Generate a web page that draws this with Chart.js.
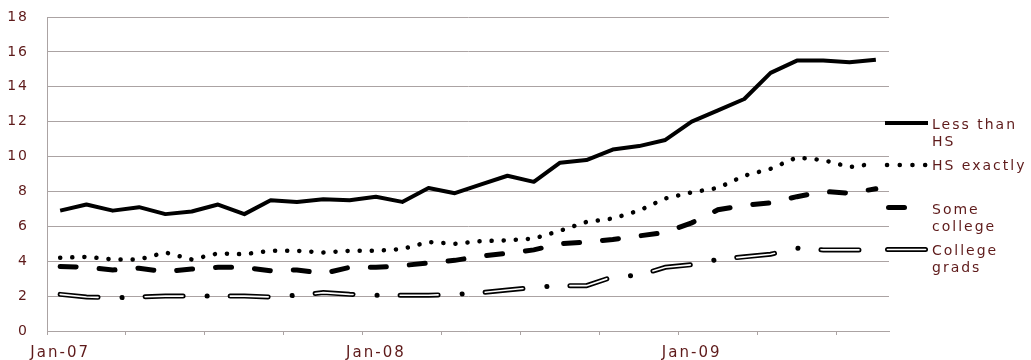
<!DOCTYPE html>
<html>
<head>
<meta charset="utf-8">
<script src="https://cdn.jsdelivr.net/npm/chart.js@4/dist/chart.umd.min.js"></script>
<style>
html,body{margin:0;padding:0;background:#fff;}
#wrap{width:1031px;height:360px;position:relative;}
</style>
</head>
<body>
<div id="wrap"><canvas id="c" width="1031" height="360"></canvas></div>
<script>
// ---- data ----
const months = [
  'Jan-07','Feb-07','Mar-07','Apr-07','May-07','Jun-07','Jul-07','Aug-07','Sep-07','Oct-07','Nov-07','Dec-07',
  'Jan-08','Feb-08','Mar-08','Apr-08','May-08','Jun-08','Jul-08','Aug-08','Sep-08','Oct-08','Nov-08','Dec-08',
  'Jan-09','Feb-09','Mar-09','Apr-09','May-09','Jun-09','Jul-09','Aug-09'
];
const tickLabels = ['Jan-07','Jan-08','Jan-09'];
const yTicks = [0,2,4,6,8,10,12,14,16,18];

const lessThanHS = [6.9,7.25,6.9,7.1,6.7,6.85,7.25,6.7,7.5,7.4,7.55,7.5,7.7,7.4,8.2,7.9,
                    8.4,8.9,8.55,9.65,9.8,10.4,10.6,10.95,12.0,12.65,13.3,14.8,15.5,15.5,15.4,15.55];
const hsExactly  = [4.2,4.25,4.1,4.1,4.5,4.1,4.45,4.4,4.6,4.6,4.5,4.6,4.6,4.7,5.1,5.0,
                    5.15,5.2,5.3,5.75,6.25,6.45,6.9,7.6,7.95,8.2,8.9,9.3,9.95,9.8,9.4,9.6];
const someCollege = [3.7,3.65,3.5,3.6,3.4,3.55,3.65,3.65,3.45,3.5,3.3,3.65,3.65,3.75,3.9,4.05,
                     4.3,4.45,4.65,5.0,5.1,5.25,5.45,5.65,6.2,6.95,7.2,7.35,7.7,8.0,7.9,8.15];
const collegeGrads = [2.1,1.95,1.9,1.95,2.0,2.0,2.0,2.0,1.95,2.05,2.2,2.1,2.05,2.05,2.05,2.1,
                      2.2,2.35,2.5,2.6,2.6,3.1,3.2,3.65,3.8,4.1,4.25,4.4,4.75,4.65,4.65,4.65];
const seriesNames = [['Less than','HS'],['HS exactly'],['Some','college'],['College','grads']];

// ---- styles ----
const GRID = '#aba3a3';
const TEXT = '#5e1a1a';
const FONT = "'DejaVu Sans', sans-serif";
const SPACING = '2px';

const spacingPlugin = {
  id: 'spacing',
  beforeUpdate(chart){ chart.ctx.letterSpacing = SPACING; },
  beforeDraw(chart){ chart.ctx.letterSpacing = SPACING; }
};

const legendPlugin = {
  id: 'sideLegend',
  afterDraw(chart){
    const ctx = chart.ctx;
    const entries = [
      {ty:125, draw(){ line(885, 928, 123, 4, [], 'butt', '#000'); }},
      {ty:166, draw(){ line(887, 928, 165, 4.5, [0.1, 12.6], 'round', '#000'); }},
      {ty:210, draw(){ line(888.5, 904.5, 207.5, 5, [], 'round', '#000'); }},
      {ty:251, draw(){ line(887.5, 925.5, 249.5, 5, [], 'round', '#000');
                       line(887.5, 925.5, 249.5, 1.6, [], 'round', '#fff'); }}
    ];
    function line(a, b, y, w, dash, cap, col){
      ctx.save();
      ctx.beginPath();
      ctx.setLineDash(dash);
      ctx.lineCap = cap;
      ctx.lineWidth = w;
      ctx.strokeStyle = col;
      ctx.moveTo(a, y); ctx.lineTo(b, y);
      ctx.stroke();
      ctx.restore();
    }
    entries.forEach((e, i) => {
      e.draw();
      ctx.save();
      ctx.letterSpacing = SPACING;
      ctx.font = '14px ' + FONT;
      ctx.fillStyle = TEXT;
      ctx.textAlign = 'left';
      ctx.textBaseline = 'middle';
      seriesNames[i].forEach((t, k) => ctx.fillText(t, 932, e.ty + k * 17.5));
      ctx.restore();
    });
  }
};

new Chart(document.getElementById('c').getContext('2d'), {
  type: 'line',
  data: {
    labels: months,
    datasets: [
      {label:'College grads (inner)', data: collegeGrads, borderColor:'#fff', borderWidth:1.6,
       borderDash:[38,47.1], borderCapStyle:'round', order:0},
      {label:'Less than HS', data: lessThanHS, borderColor:'#000', borderWidth:4,
       borderJoinStyle:'round', order:1},
      {label:'HS exactly', data: hsExactly, borderColor:'#000', borderWidth:4.5,
       borderDash:[0.1,12], borderCapStyle:'round', order:2},
      {label:'Some college', data: someCollege, borderColor:'#000', borderWidth:5,
       borderDash:[16,23], borderCapStyle:'round', order:3},
      {label:'College grads', data: collegeGrads, borderColor:'#000', borderWidth:5,
       borderDash:[38,24,0.1,23], borderCapStyle:'round', order:4}
    ]
  },
  options: {
    responsive: false,
    animation: false,
    layout: {padding: {top:17, right:142, left:0, bottom:0}},
    elements: {point: {radius:0, hoverRadius:0}, line: {tension:0, fill:false}},
    plugins: {legend: {display:false}, tooltip: {enabled:false}},
    scales: {
      x: {
        offset: true,
        grid: {offset:true, drawOnChartArea:false, tickLength:4,
               color: c => (c.index % 3 === 0 ? GRID : 'rgba(0,0,0,0)')},
        border: {color: GRID},
        ticks: {autoSkip:false, maxRotation:0, minRotation:0, padding:9, color:TEXT,
                font:{family:FONT, size:15},
                callback: (v, i) => (tickLabels.includes(months[i]) ? months[i] : '')},
        afterFit: s => { s.height = 29; s.paddingLeft = 0; s.paddingRight = 0; }
      },
      y: {
        min: 0, max: 18,
        afterBuildTicks: s => { s.ticks = yTicks.map(v => ({value:v})); },
        ticks: {padding:18, color:TEXT, font:{family:FONT, size:14}},
        grid: {color: GRID, drawTicks:false},
        border: {color: GRID},
        afterFit: s => { s.width = 47; s.paddingTop = 0; s.paddingBottom = 0; }
      }
    }
  },
  plugins: [spacingPlugin, legendPlugin]
});
</script>
</body>
</html>
